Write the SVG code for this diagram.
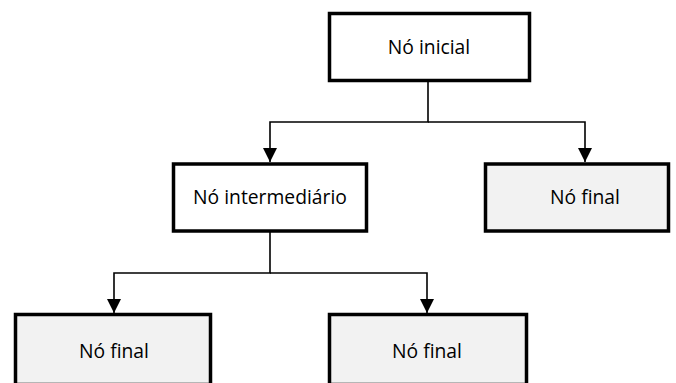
<svg xmlns="http://www.w3.org/2000/svg" width="676" height="383" viewBox="0 0 676 383">
<style>
.box{stroke:#000;stroke-width:3.5;fill:#fff}
.fin{fill:#f2f2f2}
.t{font-family:"Open Sans","Liberation Sans",sans-serif;font-size:19.3px;fill:#000;text-anchor:middle;dominant-baseline:central}
.c{fill:none;stroke:#000;stroke-width:1.6}
</style>
<defs>
<marker id="ah" viewBox="0 0 14 14" refX="14" refY="7" markerWidth="14" markerHeight="14" markerUnits="userSpaceOnUse" orient="auto">
<path d="M0,0 L14,7 L0,14 z" fill="#000"/>
</marker>
</defs>
<g id="connectors">
<path class="c" d="M428,81 V122 H270 V162" marker-end="url(#ah)"/>
<path class="c" d="M428,122 H585 V162" marker-end="url(#ah)"/>
<path class="c" d="M270,232 V273 H114 V313" marker-end="url(#ah)"/>
<path class="c" d="M270,273 H427 V313" marker-end="url(#ah)"/>
</g>
<g id="n-initial">
<rect class="box" x="329.5" y="13.5" width="200" height="67"/>
<text class="t" x="429" y="46">Nó inicial</text>
</g>
<g id="n-intermediate">
<rect class="box" x="173.5" y="164" width="193" height="67"/>
<text class="t" x="270" y="196">Nó intermediário</text>
</g>
<g id="n-final-right">
<rect class="box fin" x="485.5" y="164" width="183" height="67"/>
<text class="t" x="585" y="196">Nó final</text>
</g>
<g id="n-final-left">
<rect class="box fin" x="15.5" y="314.5" width="195" height="70"/>
<text class="t" x="114" y="350">Nó final</text>
</g>
<g id="n-final-mid">
<rect class="box fin" x="329.5" y="314.5" width="197" height="70"/>
<text class="t" x="427" y="350">Nó final</text>
</g>
</svg>
